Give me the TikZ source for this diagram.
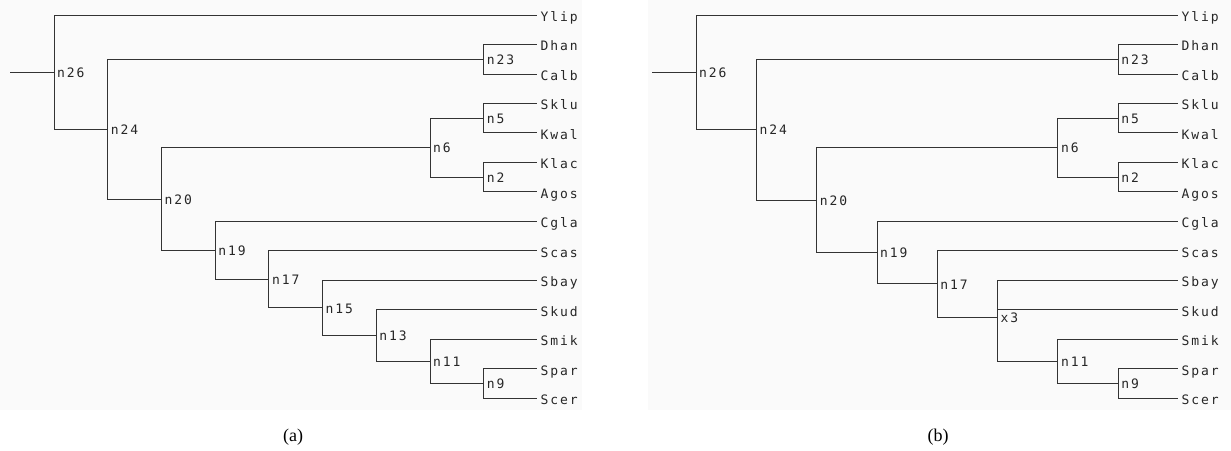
\documentclass[tikz,border=0pt]{standalone}
\usepackage{fontspec}
\setmainfont{Liberation Serif}
\newfontfamily\treefont[LetterSpace=15]{DejaVu Sans Mono}
\tikzset{
  edge/.style={draw=black!80, line width=0.8pt},
  ilab/.style={font=\treefont\fontsize{13}{15}\selectfont, text=black!85, inner sep=0pt, anchor=base west, xshift=3pt, yshift=-5.3pt},
  leaflab/.style={font=\treefont\fontsize{13}{15}\selectfont, text=black!85, inner sep=0pt, anchor=base west, xshift=3pt, yshift=-6.5pt},
  captext/.style={font=\fontsize{18}{20}\selectfont, inner sep=0pt},
  panel/.style={fill=black!2, draw=none}
}
\begin{document}
\begin{tikzpicture}[x=1pt,y=-1pt]
\useasboundingbox (0,0) rectangle (1231,450);
\fill[panel] (0,0) rectangle (582,410);
\fill[panel] (648,0) rectangle (1231,410);
% ---------------- leaves (both panels) ----------------
\foreach \n/\y in {Ylip/15,Dhan/44.46,Calb/73.92,Sklu/103.38,Kwal/132.84,Klac/162.3,Agos/191.76,Cgla/221.22,Scas/250.68,Sbay/280.14,Skud/309.6,Smik/339.06,Spar/368.52,Scer/397.98}{
  \coordinate (a-\n) at (537.3,\y);
  \node[leaflab] (a-\n-t) at (a-\n) {\n};
  \coordinate (b-\n) at (1178.4,\y);
  \node[leaflab] (b-\n-t) at (b-\n) {\n};
}
% ---------------- panel (a) ----------------
\coordinate (a-root) at (10,72.02);
\foreach \n/\x/\y in {n26/54/72.02,n24/107.7/129.04,n23/483.6/59.19,n20/161.4/198.9,n6/429.9/147.57,n5/483.6/118.11,n2/483.6/177.03,n19/215.1/250.22,n17/268.8/279.22,n15/322.5/307.76,n13/376.2/335.38,n11/429.9/361.16,n9/483.6/383.25}{
  \coordinate (a-\n) at (\x,\y);
  \node[ilab] (a-\n-t) at (a-\n) {\n};
}
\draw[edge] (a-root) -- (a-n26);
\foreach \p/\c in {n26/Ylip,n26/n24,n24/n23,n24/n20,n23/Dhan,n23/Calb,n20/n6,n20/n19,n6/n5,n6/n2,n5/Sklu,n5/Kwal,n2/Klac,n2/Agos,n19/Cgla,n19/n17,n17/Scas,n17/n15,n15/Sbay,n15/n13,n13/Skud,n13/n11,n11/Smik,n11/n9,n9/Spar,n9/Scer}{
  \draw[edge] (a-\p) |- (a-\c);
}
% ---------------- panel (b) ----------------
\coordinate (b-root) at (652,72.31);
\foreach \n/\x/\y in {n26/696/72.31,n24/756.3/129.62,n23/1118.1/59.19,n20/816.6/200.05,n6/1057.8/147.57,n5/1118.1/118.11,n2/1118.1/177.03,n19/876.9/252.52,n17/937.2/283.83,x3/997.5/316.97,n11/1057.8/361.16,n9/1118.1/383.25}{
  \coordinate (b-\n) at (\x,\y);
  \node[ilab] (b-\n-t) at (b-\n) {\n};
}
\draw[edge] (b-root) -- (b-n26);
\foreach \p/\c in {n26/Ylip,n26/n24,n24/n23,n24/n20,n23/Dhan,n23/Calb,n20/n6,n20/n19,n6/n5,n6/n2,n5/Sklu,n5/Kwal,n2/Klac,n2/Agos,n19/Cgla,n19/n17,n17/Scas,n17/x3,x3/Sbay,x3/Skud,x3/n11,n11/Smik,n11/n9,n9/Spar,n9/Scer}{
  \draw[edge] (b-\p) |- (b-\c);
}
% captions
\node[captext] (capa) at (293,437) {(a)};
\node[captext] (capb) at (938,437) {(b)};
\end{tikzpicture}
\end{document}
